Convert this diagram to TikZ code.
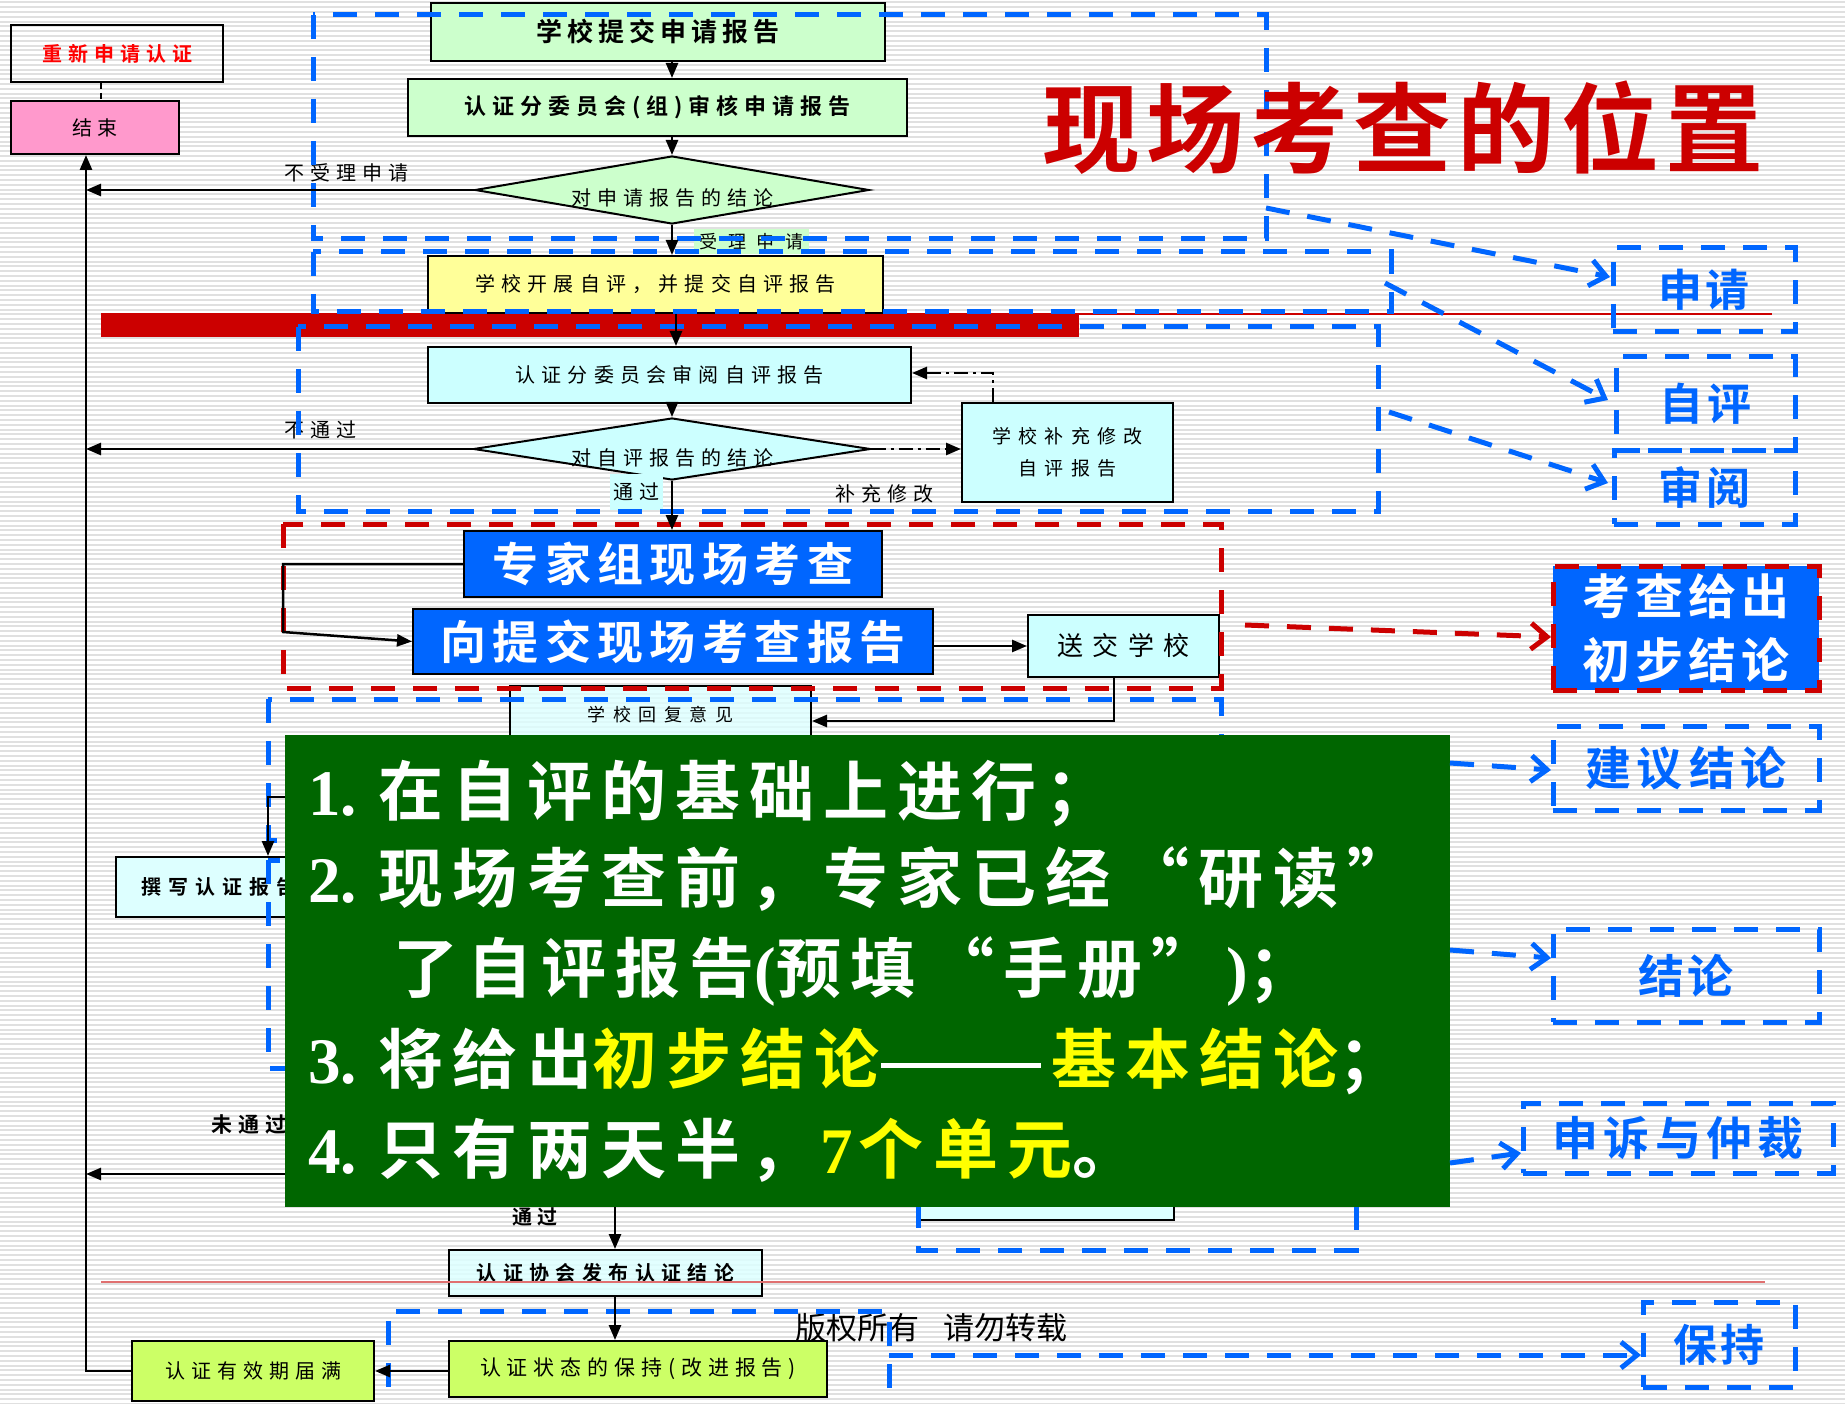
\documentclass[tikz,border=0pt]{standalone}
\usepackage{fontspec}
\setmainfont{Noto Sans CJK SC}[BoldFont={Noto Sans CJK SC Bold}]
\newfontfamily\lat{Liberation Serif}
\usetikzlibrary{arrows.meta,shapes.geometric,calc}
\definecolor{cblue}{HTML}{0066FF}
\definecolor{cred}{HTML}{CC0000}
\definecolor{dgreen}{HTML}{006600}
\definecolor{yel}{HTML}{FFFF00}
\definecolor{cpink}{HTML}{FF99CC}
\definecolor{lgreen}{HTML}{CCFFCC}
\definecolor{lyellow}{HTML}{FFFF99}
\definecolor{lcyan}{HTML}{CCFFFF}
\definecolor{pcyan}{HTML}{DDFFFF}
\definecolor{clime}{HTML}{CCFF66}
\definecolor{stripe}{HTML}{E0E0E0}
\definecolor{pinkline}{HTML}{E07070}
\newcommand{\fsz}[2]{\fontsize{#1pt}{#1pt}\selectfont\addfontfeature{LetterSpace=#2}}
\tikzset{
 box/.style={draw=black, line width=2pt, inner sep=0pt, align=center},
 bd/.style={draw=cblue, line width=5pt, dash pattern=on 24pt off 18pt},
 rdash/.style={draw=cred, line width=5pt, dash pattern=on 24pt off 18pt},
 bdarr/.style={bd, -{Straight Barb[length=16pt,width=26pt]}},
 rdarr/.style={rdash, -{Straight Barb[length=16pt,width=26pt]}},
 arr/.style={draw=black, line width=2.5pt, -{Triangle[length=15pt,width=12pt]}},
 ddarr/.style={draw=black, line width=2.5pt, dash pattern=on 14pt off 5pt on 3pt off 5pt, -{Triangle[length=15pt,width=12pt]}},
 lbl/.style={inner sep=0pt, font=\fsz{20}{30}},
 rtxt/.style={bd, inner sep=0pt, text=cblue, font=\bfseries\fsz{44}{8}},
 gt/.style={inner sep=0pt, anchor=base west, text=white, font=\bfseries\fsz{65}{14}},
 stripeline/.style={draw=stripe, line width=2pt},
}
\begin{document}
\begin{tikzpicture}[x=1pt,y=-1pt]
\useasboundingbox (0,0) rectangle (1845,1404);
\fill[white] (0,0) rectangle (1845,1404);
\foreach \i in {0,...,292} \draw[stripeline] (0,2.4+\i*4.8) -- (1845,2.4+\i*4.8);

% red bar and lines
\fill[cred] (101,313) rectangle (1079,337);
\draw[cred, line width=2.5pt] (101,314) -- (1772,314);

% flow boxes
\node[box, minimum width=212pt, minimum height=57pt, text=red, font=\bfseries\fsz{20}{30}] (renew) at (117,53.5) {重新申请认证};
\node[box, fill=cpink, minimum width=168pt, minimum height=53pt, font=\fsz{20}{25}] (end) at (95,127.5) {结束};
\node[box, fill=lgreen, minimum width=454pt, minimum height=58pt, font=\bfseries\fsz{26}{19}] (submit) at (658,32) {学校提交申请报告};
\node[box, fill=lgreen, minimum width=499pt, minimum height=57pt, font=\bfseries\fsz{22}{27}] (review1) at (657.5,107.5) {认证分委员会(组)审核申请报告};
\node[draw=black, line width=2pt, fill=lgreen, diamond, inner sep=0pt, minimum width=394pt, minimum height=68pt] (d1) at (672,190) {};
\node[lbl] (d1t) at (672,198) {对申请报告的结论};
\node[fill=lgreen, inner sep=0pt, minimum width=115pt, minimum height=25pt, font=\fsz{18}{60}] (acc) at (751.5,241.5) {受理申请};
\node[box, fill=lyellow, minimum width=455pt, minimum height=57pt, font=\fsz{20}{31}] (selfeval) at (655.5,284.5) {学校开展自评，并提交自评报告};
\node[box, fill=lcyan, minimum width=483pt, minimum height=56pt, font=\fsz{20}{31}] (review2) at (669.5,375) {认证分委员会审阅自评报告};
\node[draw=black, line width=2pt, fill=lcyan, diamond, inner sep=0pt, minimum width=397pt, minimum height=62pt] (d2) at (672,449) {};
\node[lbl] (d2t) at (672,458) {对自评报告的结论};
\node[fill=lcyan, inner sep=0pt, minimum width=53pt, minimum height=36pt, font=\fsz{20}{30}] (pass1) at (636.5,492) {通过};
\node[box, fill=lcyan, minimum width=211pt, minimum height=99pt, font=\fsz{19}{37}] (supp) at (1067.5,452.5) {学校补充修改\\[13pt]自评报告};
\node[box, fill=cblue, minimum width=418pt, minimum height=66pt, text=white, font=\bfseries\fsz{46}{14}] (expert) at (673,564) {专家组现场考查};
\node[box, fill=cblue, minimum width=520pt, minimum height=65pt, text=white, font=\bfseries\fsz{46}{14}] (report) at (673,641.5) {向提交现场考查报告};
\node[box, fill=lcyan, minimum width=191pt, minimum height=62pt, font=\fsz{26}{35}] (send) at (1123.5,646) {送交学校};
\node[box, fill=pcyan, fill opacity=0.8, minimum width=301pt, minimum height=74pt] (reply) at (660.5,723) {};
\node[lbl, font=\fsz{18}{42}] (replyt) at (660.5,715) {学校回复意见};
\node[box, fill=pcyan, minimum width=206pt, minimum height=60pt, font=\bfseries\fsz{20}{35}] (write) at (219,887) {撰写认证报告};
\node[box, fill=pcyan, minimum width=256pt, minimum height=60pt] (ruling) at (1046,1190) {};
\node[box, fill=pcyan, fill opacity=0.85, text opacity=1, minimum width=313pt, minimum height=46pt, font=\bfseries\fsz{20}{32}] (issue) at (605.5,1273) {认证协会发布认证结论};
\node[box, fill=clime, minimum width=378pt, minimum height=56pt, font=\fsz{21}{28}] (maintain) at (638,1369) {认证状态的保持(改进报告)};
\node[box, fill=clime, minimum width=242pt, minimum height=60pt, font=\fsz{20}{30}] (expire) at (253,1371) {认证有效期届满};
\draw[pinkline, line width=2pt] (101,1282) -- (1765,1282);

% labels
\node[lbl] (norej) at (346,173) {不受理申请};
\node[lbl] (nopass) at (320,430) {不通过};
\node[lbl] (suppl) at (884,494) {补充修改};
\node[lbl, font=\bfseries\fsz{21}{28}] (fail) at (249,1125) {未通过};
\node[lbl, font=\bfseries\fsz{20}{28}] (pass2) at (535,1217) {通过};
\node[inner sep=0pt, anchor=west, font=\fsz{31}{0}] (copy) at (795,1328) {版权所有\hspace{24pt}请勿转载};

% dashed stage frames
\draw[bd] (313,15) rectangle (1266,239);
\draw[bd] (313,252) rectangle (1391,312);
\draw[bd] (298,327) rectangle (1378,511);
\draw[rdash] (283,524) rectangle (1221,688);
\draw[bd] (268,699) rectangle (1221,840);
\draw[bd] (268,860) rectangle (1221,1068);
\draw[bd] (918,1120) rectangle (1356,1250);
\draw[bd] (889,1430) -- (889,1311) -- (388,1311) -- (388,1430);

% helper coordinates
\coordinate (xl) at (86,0);
\coordinate (xa) at (676,0);
\coordinate (rx) at (101,0);
\coordinate (sx) at (993,373);
\coordinate (lp) at (283,632);
\coordinate (rb) at (1114,721);
\coordinate (wa) at (300,797);
\coordinate (wb) at (268,797);
\coordinate (nf) at (300,1174);
\coordinate (pa) at (615,1190);

% black connectors
\draw[black, line width=1.5pt, dash pattern=on 6pt off 4pt] (renew.south -| rx) -- (end.north -| rx);
\draw[arr] (submit.south -| d1.north) -- (review1.north -| d1.north);
\draw[arr] (review1.south -| d1.north) -- (d1.north);
\draw[arr] (d1.west) -- (d1.west -| xl);
\draw[arr] (d1.south) -- (selfeval.north -| d1.south);
\draw[arr] (selfeval.south -| xa) -- (review2.north -| xa);
\draw[arr] (review2.south -| d2.north) -- (d2.north);
\draw[arr] (d2.west) -- (d2.west -| xl);
\draw[arr] (d2.south) -- (expert.north -| d2.south);
\draw[ddarr] (d2.east) -- (supp.west |- d2.east);
\draw[ddarr] (supp.north -| sx) -- (sx) -- (review2.east |- sx);
\draw[arr] (expert.west) -| (lp) -- (report.west);
\draw[arr] (report.east |- send.west) -- (send.west);
\draw[arr] (send.south -| rb) -- (rb) -- (reply.east |- rb);
\draw[arr] (wa) -- (wb) -- (write.north -| wb);
\draw[arr] (nf) -- (nf -| xl);
\draw[arr] (pa) -- (issue.north -| pa);
\draw[arr] (issue.south -| pa) -- (maintain.north -| pa);
\draw[arr] (maintain.west |- expire.east) -- (expire.east);
\draw[arr] (expire.west) -- (expire.west -| xl) -- (end.south -| xl);

% green note
\node[fill=dgreen, inner sep=0pt, minimum width=1165pt, minimum height=472pt] (green) at (867.5,971) {};
\node[gt] (g1) at (308,815) {{\lat\bfseries 1.}\hspace{22pt}在自评的基础上进行；};
\node[gt] (g2) at (308,902) {{\lat\bfseries 2.}\hspace{22pt}现场考查前，专家已经\hspace{14pt}“研读”};
\node[gt] (g3) at (393,992) {了自评报告{\lat\bfseries(}预填\hspace{14pt}“手册”\hspace{10pt}{\lat\bfseries)}；};
\node[gt] (g4) at (308,1083) {{\lat\bfseries 3.}\hspace{22pt}将给出\textcolor{yel}{初步结论}\hspace{2pt}\rule[15pt]{160pt}{5pt}\hspace{10pt}\textcolor{yel}{基本结论}；};
\node[gt] (g5) at (308,1173) {{\lat\bfseries 4.}\hspace{22pt}只有两天半，\hspace{6pt}\textcolor{yel}{{\lat\bfseries 7}\hspace{6pt}个单元}。};

% title
\node[inner sep=0pt, text=cred, font=\bfseries\fsz{98}{6}] (title) at (1403,128) {现场考查的位置};

% right column
\node[rtxt, minimum width=182pt, minimum height=84pt] (r1) at (1704,290) {申请};
\node[rtxt, minimum width=179pt, minimum height=93pt] (r2) at (1705.5,403.5) {自评};
\node[rtxt, minimum width=181pt, minimum height=74pt] (r3) at (1704.5,487) {审阅};
\node[rdash, fill=cblue, inner sep=0pt, text=white, align=center, font=\bfseries\fsz{48}{10}, minimum width=266pt, minimum height=124pt] (r4) at (1686,628) {考查给出\\[16pt]初步结论};
\node[rtxt, minimum width=266pt, minimum height=84pt, font=\bfseries\fsz{46}{13}] (r5) at (1686,768) {建议结论};
\node[rtxt, minimum width=266pt, minimum height=93pt, font=\bfseries\fsz{46}{8}] (r6) at (1686,975.5) {结论};
\node[rtxt, minimum width=310pt, minimum height=70pt, font=\bfseries\fsz{46}{11}] (r7) at (1678,1138) {申诉与仲裁};
\node[rtxt, minimum width=152pt, minimum height=85pt] (r8) at (1719,1344.5) {保持};

% frame-to-stage arrows
\coordinate (a1s) at (1266,208); \coordinate (a1e) at (1610,277);
\coordinate (a2s) at (1385,283); \coordinate (a2e) at (1608,400);
\coordinate (a3s) at (1389,412); \coordinate (a3e) at (1608,483);
\coordinate (a4s) at (1245,625); \coordinate (a4e) at (1551,637);
\coordinate (a5s) at (1450,763); \coordinate (a5e) at (1551,770);
\coordinate (a6s) at (1450,950); \coordinate (a6e) at (1551,958);
\coordinate (a7s) at (1450,1163); \coordinate (a7e) at (1521,1153);
\coordinate (a8s) at (889,1355); \coordinate (a8e) at (1641,1355);
\draw[bdarr] (a1s) -- (a1e);
\draw[bdarr] (a2s) -- (a2e);
\draw[bdarr] (a3s) -- (a3e);
\draw[rdarr] (a4s) -- (a4e);
\draw[bdarr] (a5s) -- (a5e);
\draw[bdarr] (a6s) -- (a6e);
\draw[bdarr] (a7s) -- (a7e);
\draw[bdarr] (a8s) -- (a8e);
\end{tikzpicture}
\end{document}
